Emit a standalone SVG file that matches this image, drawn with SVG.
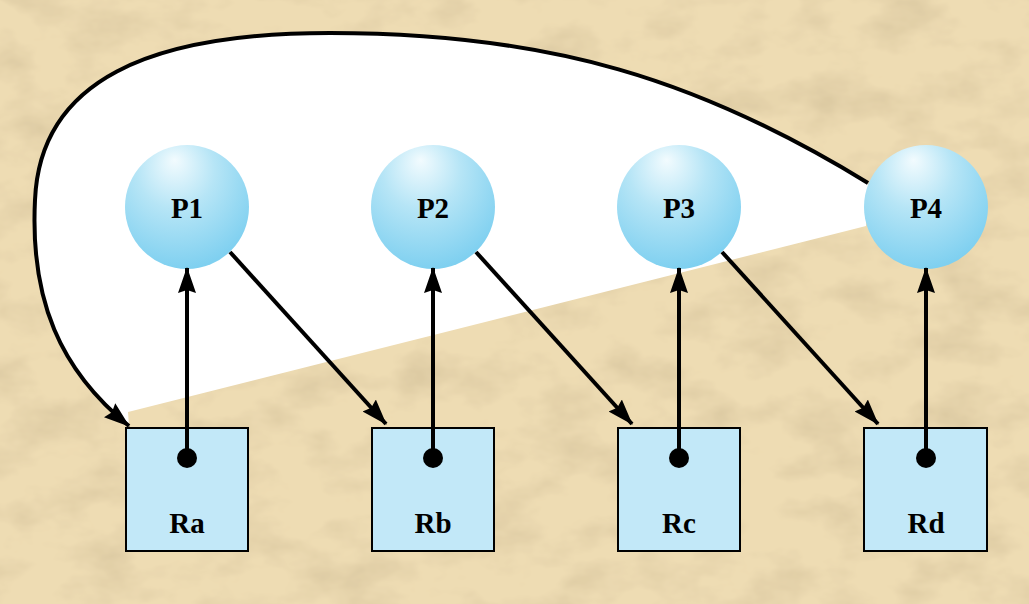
<svg xmlns="http://www.w3.org/2000/svg" width="1029" height="604" viewBox="0 0 1029 604">
<defs>
<filter id="tex" x="0" y="0" width="100%" height="100%">
<feTurbulence type="fractalNoise" baseFrequency="0.015 0.025" numOctaves="4" seed="7" result="n"/>
<feColorMatrix in="n" type="matrix" values="0 0 0 0 0.62  0 0 0 0 0.5  0 0 0 0 0.3  0 0 0 1.2 -0.5" result="c"/>
<feComposite in="c" in2="SourceGraphic" operator="atop"/>
</filter>
<radialGradient id="ball" cx="0.42" cy="0.3" r="0.7" fx="0.4" fy="0.12">
<stop offset="0" stop-color="#f2fbfe"/>
<stop offset="0.45" stop-color="#b6e5f6"/>
<stop offset="1" stop-color="#7fd0f0"/>
</radialGradient>
<marker id="ah" viewBox="0 0 26 20" refX="25" refY="10" markerWidth="26" markerHeight="20" markerUnits="userSpaceOnUse" orient="auto">
<path d="M0,1 L26,10 L0,19 L3,10 Z" fill="#000"/>
</marker>
<style>
.ball{fill:url(#ball)}
.box{fill:#c2e8f8;stroke:#000;stroke-width:2}
.lbl{font-family:"Liberation Serif",serif;font-weight:bold;font-size:29px;fill:#000;text-anchor:middle}
.ln{fill:none;stroke:#000;stroke-width:4;marker-end:url(#ah)}
.dot{fill:#000}
</style>
</defs>
<rect width="1029" height="604" fill="#eedcb3" filter="url(#tex)"/>
<path d="M868,183 C700,80 550,33 330,33 C150,33 40,80 35,200 C30,300 60,370 129,426 L128,412 L866,226 Z" fill="#fff"/>
<g id="P1"><circle class="ball" cx="187" cy="207" r="62"/><text class="lbl" x="187" y="218">P1</text></g>
<g id="P2"><circle class="ball" cx="433" cy="207" r="62"/><text class="lbl" x="433" y="218">P2</text></g>
<g id="P3"><circle class="ball" cx="679" cy="207" r="62"/><text class="lbl" x="679" y="218">P3</text></g>
<g id="P4"><circle class="ball" cx="926" cy="207" r="62"/><text class="lbl" x="926" y="218">P4</text></g>
<g id="Ra"><rect class="box" x="126" y="428" width="122" height="123"/><circle class="dot" cx="187" cy="458" r="10"/><text class="lbl" x="187" y="533">Ra</text></g>
<g id="Rb"><rect class="box" x="372" y="428" width="122" height="123"/><circle class="dot" cx="433" cy="458" r="10"/><text class="lbl" x="433" y="533">Rb</text></g>
<g id="Rc"><rect class="box" x="618" y="428" width="122" height="123"/><circle class="dot" cx="679" cy="458" r="10"/><text class="lbl" x="679" y="533">Rc</text></g>
<g id="Rd"><rect class="box" x="864" y="428" width="123" height="123"/><circle class="dot" cx="926" cy="458" r="10"/><text class="lbl" x="926" y="533">Rd</text></g>
<g id="connectors">
<path class="ln" d="M868,183 C700,80 550,33 330,33 C150,33 40,80 35,200 C30,300 60,370 129,426"/>
<line class="ln" x1="187" y1="458" x2="187" y2="268"/>
<line class="ln" x1="433" y1="458" x2="433" y2="268"/>
<line class="ln" x1="679" y1="458" x2="679" y2="268"/>
<line class="ln" x1="926" y1="458" x2="926" y2="268"/>
<line class="ln" x1="230" y1="252" x2="386" y2="424"/>
<line class="ln" x1="476" y1="252" x2="632" y2="424"/>
<line class="ln" x1="722" y1="252" x2="878" y2="424"/>
</g>
</svg>
